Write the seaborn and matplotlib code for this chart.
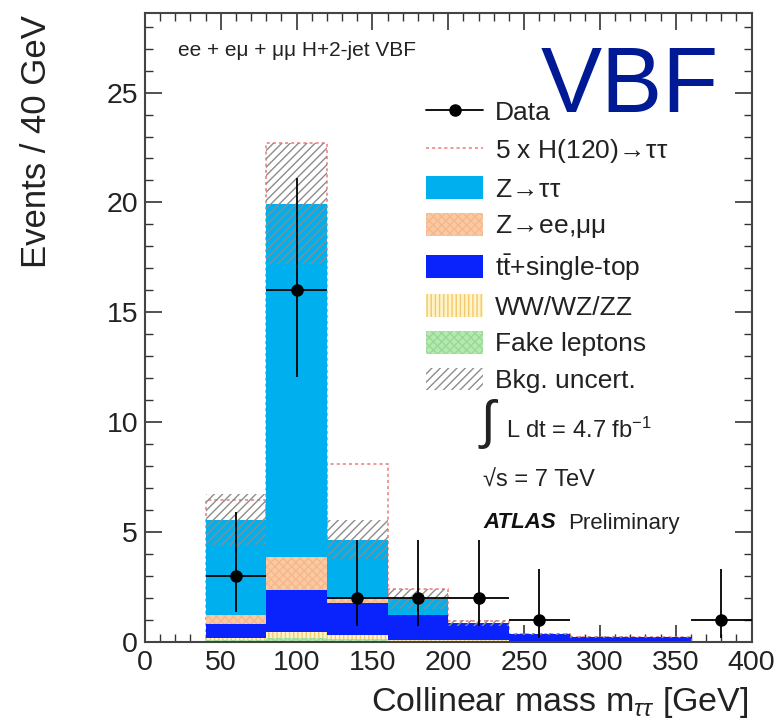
import numpy as np
import pandas as pd
import seaborn as sns
import matplotlib
matplotlib.use("Agg")
import matplotlib.pyplot as plt
from matplotlib.patches import Patch
from matplotlib.lines import Line2D
from matplotlib.ticker import MultipleLocator

# ---------------- data ----------------
bin_edges = [40, 80, 120, 160, 200, 240, 280, 320, 360]
fake_leptons = [0.08, 0.20, 0.12, 0.03, 0.02, 0.00, 0.00, 0.00]
diboson      = [0.10, 0.25, 0.20, 0.05, 0.05, 0.04, 0.03, 0.03]
ttbar        = [0.64, 1.92, 1.46, 1.15, 0.78, 0.33, 0.20, 0.18]
z_ll         = [0.39, 1.51, 0.18, 0.02, 0.01, 0.00, 0.00, 0.00]
z_tautau     = [4.36, 16.07, 2.70, 0.71, 0.01, 0.00, 0.00, 0.00]
bkg_uncert   = [1.15, 2.75, 0.90, 0.45, 0.12, 0.05, 0.04, 0.04]
signal_5x    = [0.90, 2.75, 3.42, 0.44, 0.08, 0.00, 0.00, 0.00]

data_x     = [60, 100, 140, 180, 220, 260, 380]
data_y     = [3, 16, 2, 2, 2, 1, 1]
data_errlo = [1.63, 3.96, 1.29, 1.29, 1.29, 0.83, 0.83]
data_errhi = [2.92, 5.10, 2.64, 2.64, 2.64, 2.30, 2.30]
data_xerr  = 20

ARROW = r"${\!\rightarrow\!}$"
labels = ["Data", "5 x H(120)" + ARROW + "\u03c4\u03c4", "Z" + ARROW + "\u03c4\u03c4",
          "Z" + ARROW + "ee,\u03bc\u03bc", r"t$\mathregular{\bar{t}}$+single-top",
          "WW/WZ/ZZ", "Fake leptons", "Bkg. uncert."]

# ---------------- style ----------------
sns.set_theme(style="ticks")
plt.rcParams["font.family"] = ["Liberation Sans", "DejaVu Sans"]
plt.rcParams["mathtext.fontset"] = "custom"
plt.rcParams["mathtext.rm"] = "Liberation Sans"
plt.rcParams["mathtext.it"] = "Liberation Sans:italic"
plt.rcParams["mathtext.bf"] = "Liberation Sans:bold"
plt.rcParams["hatch.linewidth"] = 1.0

W, H = 779, 720
fig = plt.figure(figsize=(W / 100, H / 100), dpi=100)
ax = fig.add_axes([145 / W, 1 - 642 / H, (751.5 - 145) / W, (642 - 13) / H])

edges = np.array(bin_edges, dtype=float)
centers = (edges[:-1] + edges[1:]) / 2
widths = np.diff(edges)

# stack components bottom -> top
comps = [
    ("fake", fake_leptons, "#b8e8b0", "xxxx", "#96da96"),
    ("dib", diboson, "#fff4c8", "||||", "#f2c870"),
    ("tt", ttbar, "#0a22fb", None, "#0a22fb"),
    ("zll", z_ll, "#fbcba0", "xxxx", "#f6b690"),
    ("ztt", z_tautau, "#00b0ee", None, "#00b0ee"),
]
cums = np.cumsum(np.array([c[1] for c in comps]), axis=0)
total = cums[-1]

def hist_df(weights):
    return pd.DataFrame({"m": centers, "w": np.asarray(weights, dtype=float)})

SIG = "#f07878"
# signal (5x) stacked on background, dashed red outline
sns.histplot(data=hist_df(total + np.array(signal_5x)), x="m", weights="w",
             bins=list(bin_edges), ax=ax, element="bars", fill=False, color=SIG,
             edgecolor=SIG, linestyle=(0, (2, 2)), linewidth=1.1, zorder=1)

# draw cumulative stacks from top to bottom so lower ones overlay
for i in range(len(comps) - 1, -1, -1):
    name, vals, fc, hatch, hc = comps[i]
    sns.histplot(data=hist_df(cums[i]), x="m", weights="w", bins=list(bin_edges), ax=ax,
                 element="bars", fill=True, color=fc, alpha=1, linewidth=0,
                 edgecolor=hc, hatch=hatch, zorder=2)

# background uncertainty band
err = np.array(bkg_uncert)
ax.bar(edges[:-1], 2 * err, bottom=total - err, width=widths, align="edge",
       facecolor="none", edgecolor="#8c8c8c", hatch="////", linewidth=0, zorder=3)

# data
ax.errorbar(data_x, data_y, xerr=data_xerr, yerr=[data_errlo, data_errhi], fmt="o",
            color="black", ms=8, lw=1.3, capsize=0, zorder=6)

ax.set_xlim(0, 400)
ax.set_ylim(0, 28.62)
ax.set_xlabel("")
ax.set_ylabel("")
ax.xaxis.set_major_locator(MultipleLocator(50))
ax.xaxis.set_minor_locator(MultipleLocator(10))
ax.yaxis.set_major_locator(MultipleLocator(5))
ax.yaxis.set_minor_locator(MultipleLocator(1))
ax.tick_params(which="both", direction="in", top=True, right=True, colors="#333333",
               labelcolor="#222222")
ax.tick_params(which="major", length=12, width=1.2, labelsize=20.5)
ax.tick_params(which="minor", length=6, width=1.0)
ax.tick_params(axis="x", pad=6)
ax.tick_params(axis="y", pad=5)
for s in ax.spines.values():
    s.set_linewidth(1.5)
    s.set_color("#444444")

# legend
handles = [
    Line2D([0], [0], color="black", lw=1.3, marker="o", ms=8),
    Line2D([0], [0], color=SIG, lw=1.1, linestyle=(0, (2, 2))),
    Patch(facecolor=comps[4][2], edgecolor=comps[4][4], linewidth=0),
    Patch(facecolor=comps[3][2], edgecolor=comps[3][4], hatch=comps[3][3], linewidth=0),
    Patch(facecolor=comps[2][2], edgecolor=comps[2][4], linewidth=0),
    Patch(facecolor=comps[1][2], edgecolor=comps[1][4], hatch=comps[1][3], linewidth=0),
    Patch(facecolor=comps[0][2], edgecolor=comps[0][4], hatch=comps[0][3], linewidth=0),
    Patch(facecolor="none", edgecolor="#8c8c8c", hatch="////", linewidth=0),
]
leg = ax.legend(handles, labels, loc="upper left",
                bbox_to_anchor=(426 / W, 1 - 100 / H), bbox_transform=fig.transFigure,
                frameon=False, fontsize=19, handlelength=2.16, handleheight=0.95,
                handletextpad=0.45, labelspacing=0.43, borderpad=0, borderaxespad=0)
for t in leg.get_texts():
    t.set_color("#222222")

def px(x, y):
    return x / W, 1 - y / H

fig.text(*px(178, 50), "ee + e\u03bc + \u03bc\u03bc H+2-jet VBF", fontsize=15,
         ha="left", va="center", color="#222222")
fig.text(*px(719, 112), "VBF", fontsize=66, color="#001a96", ha="right",
         va="baseline")
fig.text(*px(481, 424), "\u222b", fontsize=38, ha="left", va="center", color="#222222")
fig.text(*px(506, 430), r"L dt = 4.7 fb$^{-1}$", fontsize=17, ha="left", va="center",
         color="#222222")
fig.text(*px(483, 481), "\u221as = 7 TeV", fontsize=17, ha="left", va="center",
         color="#222222")
fig.text(*px(483, 523), "ATLAS", fontsize=16, ha="left", va="center",
         fontweight="bold", fontstyle="italic", color="#111111")
fig.text(*px(568, 523), "Preliminary", fontsize=16, ha="left", va="center",
         color="#222222")

fig.text(*px(37, 15), "Events / 40 GeV", fontsize=25, rotation=90, ha="center",
         va="top", color="#222222")
fig.text(*px(749, 703), r"Collinear mass m$_{\tau\tau}$ [GeV]", fontsize=24.5,
         ha="right", va="center", color="#222222")

fig.savefig("out.png", dpi=100)
